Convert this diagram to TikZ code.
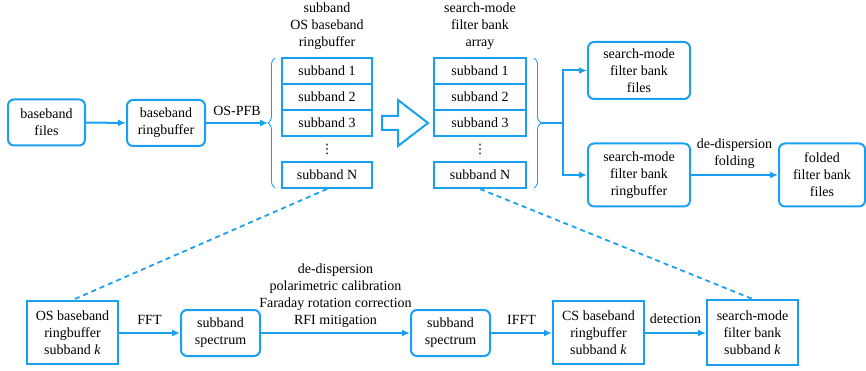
\documentclass[tikz,border=0pt]{standalone}
\usepackage{fontspec}
\setmainfont{Liberation Serif}
\newfontfamily\dvfont{DejaVu Sans}
\usetikzlibrary{arrows.meta,decorations.pathreplacing}
\definecolor{bl}{RGB}{25,160,240}
\begin{document}
\begin{tikzpicture}[x=1pt,y=1pt,
  every node/.style={font=\fontsize{14}{17}\selectfont, align=center, inner sep=0pt},
  rbox/.style={draw=bl, line width=2pt, rounded corners=6pt},
  sbox/.style={draw=bl, line width=2pt},
  arr/.style={draw=bl, line width=2pt, -{Latex[length=8pt,width=7pt]}},
  dline/.style={draw=bl, line width=1.8pt, dash pattern=on 5pt off 4pt},
  brc/.style={draw=bl, line width=0.9pt, decorate, decoration={brace, amplitude=7pt}},
  dots/.style={font=\dvfont\fontsize{13}{13}\selectfont}]
\useasboundingbox (0,0) rectangle (866,-371);
% top row
\node[rbox, minimum width=77, minimum height=46] (bf) at (46.5,-122.5) {baseband\\files};
\node[rbox, minimum width=78, minimum height=46] (br) at (166,-123) {baseband\\ringbuffer};
% left column
\node (lt) at (327,-26) {subband\\OS baseband\\ringbuffer};
\node[sbox, minimum width=90, minimum height=26] (l1) at (327,-71) {subband 1};
\node[sbox, minimum width=90, minimum height=26] (l2) at (327,-97) {subband 2};
\node[sbox, minimum width=90, minimum height=26] (l3) at (327,-123) {subband 3};
\node[dots] (ld) at (327,-149) {⋮};
\node[sbox, minimum width=90, minimum height=26] (lN) at (327,-175) {subband N};
% right column
\node (rt) at (480,-26) {search-mode\\filter bank\\array};
\node[sbox, minimum width=92, minimum height=26] (r1) at (480,-71) {subband 1};
\node[sbox, minimum width=92, minimum height=26] (r2) at (480,-97) {subband 2};
\node[sbox, minimum width=92, minimum height=26] (r3) at (480,-123) {subband 3};
\node[dots] (rd) at (480,-149) {⋮};
\node[sbox, minimum width=92, minimum height=26] (rN) at (480,-175) {subband N};
% outputs
\node[rbox, minimum width=102, minimum height=57] (sf) at (639,-70.5) {search-mode\\filter bank\\files};
\node[rbox, minimum width=102, minimum height=63] (sr) at (639,-175) {search-mode\\filter bank\\ringbuffer};
\node[rbox, minimum width=86, minimum height=63] (ff) at (822,-175) {folded\\filter bank\\files};
% braces
\draw[brc] (275,-188) -- (275,-58);
\draw[brc] (534,-58) -- (534,-188);
\coordinate (lb) at (268,-123);
\coordinate (rb) at (541,-123);
\coordinate (jn) at (563,-123);
% hollow arrow
\draw[bl, line width=2pt, line join=miter] (382,-116) -- (398,-116) -- (398,-100) -- (428,-123) -- (398,-146) -- (398,-130) -- (382,-130) -- cycle;
% top connectors
\draw[arr] (bf) -- (br);
\draw[arr] (br) -- node[above=6pt] {OS-PFB} (lb);
\draw[bl, line width=2pt] (rb) -- (jn);
\draw[arr] (jn) |- (sf.west);
\draw[arr] (jn) |- (sr.west);
\draw[arr] (sr) -- node[above=5pt] {de-dispersion\\folding} (ff);
% bottom row
\node[sbox, minimum width=91, minimum height=63] (os) at (72.5,-332.5) {OS baseband\\ringbuffer\\subband \textit{k}};
\node[rbox, minimum width=79, minimum height=46] (s1) at (220.5,-333) {subband\\spectrum};
\node[rbox, minimum width=79, minimum height=46] (s2) at (450.5,-333) {subband\\spectrum};
\node[sbox, minimum width=91, minimum height=63] (cs) at (598.5,-332.5) {CS baseband\\ringbuffer\\subband \textit{k}};
\node[sbox, minimum width=91, minimum height=65] (sk) at (752.5,-332.5) {search-mode\\filter bank\\subband \textit{k}};
\draw[arr] (os.east |- s1) -- node[above=8pt] {FFT} (s1);
\draw[arr] (s1) -- node[above=4pt] {de-dispersion\\polarimetric calibration\\Faraday rotation correction\\RFI mitigation} (s2);
\draw[arr] (s2) -- node[above=8pt] {IFFT} (cs.west |- s2);
\draw[arr] (cs.east |- s2) -- node[above=8pt] {detection} (sk.west |- s2);
% dashed
\draw[dline] (lN.south) -- (os.north);
\draw[dline] (rN.south) -- (sk.north);
\end{tikzpicture}
\end{document}
